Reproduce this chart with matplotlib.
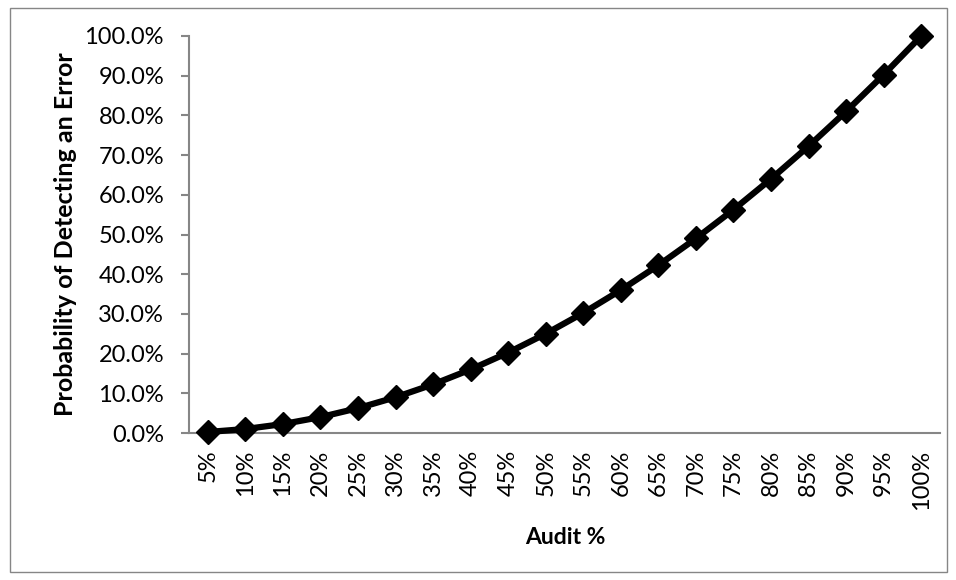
import matplotlib
matplotlib.use("Agg")
import matplotlib.pyplot as plt
from matplotlib.patches import Rectangle
from matplotlib.ticker import FuncFormatter

plt.rcParams['font.family'] = ['Lato', 'DejaVu Sans']

categories = ["5%", "10%", "15%", "20%", "25%", "30%", "35%", "40%", "45%", "50%",
              "55%", "60%", "65%", "70%", "75%", "80%", "85%", "90%", "95%", "100%"]
probability = [0.25, 1.0, 2.25, 4.0, 6.25, 9.0, 12.25, 16.0, 20.25, 25.0,
               30.25, 36.0, 42.25, 49.0, 56.25, 64.0, 72.25, 81.0, 90.25, 100.0]
y_ticks = [0, 10, 20, 30, 40, 50, 60, 70, 80, 90, 100]

W, H = 956, 580
fig = plt.figure(figsize=(W / 100, H / 100), dpi=100)
fig.patch.set_facecolor("white")

# outer chart border
fig.add_artist(Rectangle((10 / W, 1 - 572 / H), (947 - 10) / W, (572 - 8) / H,
                         transform=fig.transFigure, fill=False,
                         edgecolor="#868686", linewidth=1))

ax = fig.add_axes([189 / W, 1 - 433 / H, (940 - 189) / W, (433 - 36) / H])
x = list(range(len(categories)))
ax.plot(x, probability, color="black", linewidth=4.5, marker="D",
        markersize=12.5, markerfacecolor="black", markeredgecolor="black",
        solid_joinstyle="round", clip_on=False, zorder=3)

ax.set_xlim(-0.5, len(categories) - 0.5)
ax.set_ylim(0, 100)
ax.set_yticks(y_ticks)
ax.yaxis.set_major_formatter(FuncFormatter(lambda v, p: f"{v:.1f}%"))
ax.set_xticks(x)
ax.set_xticklabels(categories, rotation=90)

for s in ["top", "right"]:
    ax.spines[s].set_visible(False)
for s in ["left", "bottom"]:
    ax.spines[s].set_color("#868686")
    ax.spines[s].set_linewidth(1.5)

ax.tick_params(axis="y", length=6, width=1.5, color="#868686",
               labelsize=17, pad=12, labelcolor="black")
ax.tick_params(axis="x", length=0, labelsize=17, pad=12, labelcolor="black")

ax.set_xlabel("Audit %", fontsize=16.5, fontweight="bold")
ax.xaxis.set_label_coords(565 / W, 1 - 538 / H, transform=fig.transFigure)
ax.xaxis.label.set_va("center")
ax.set_ylabel("Probability of Detecting an Error", fontsize=18,
              fontweight="bold")
ax.yaxis.set_label_coords(66 / W, 1 - 234 / H, transform=fig.transFigure)
ax.yaxis.label.set_va("center")

fig.savefig("out.png", dpi=100)
